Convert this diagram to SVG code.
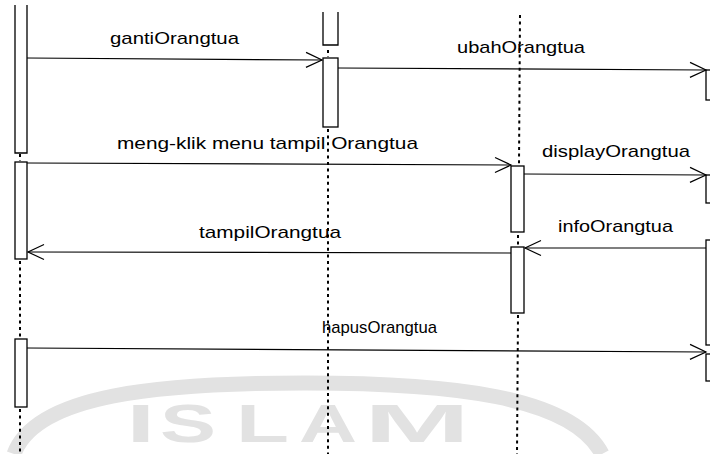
<svg xmlns="http://www.w3.org/2000/svg" width="710" height="454" viewBox="0 0 710 454">
<style>
  .act{fill:#fff;stroke:#000;stroke-width:1.3}
  .life{stroke:#000;stroke-width:2;stroke-dasharray:3 3.6;fill:none}
  .msg{stroke:#000;stroke-width:1.2;fill:none}
  .lbl{font-family:"Liberation Sans",Arial,sans-serif;font-size:17px;fill:#000}
  .wm{font-family:"Liberation Sans",Arial,sans-serif;font-size:54px;font-weight:bold;fill:#e2e2e2}
</style>
<defs>
  <marker id="arr" markerUnits="userSpaceOnUse" markerWidth="20" markerHeight="20" refX="0" refY="0" viewBox="-18 -10 20 20" orient="auto">
    <path d="M -16 -7.5 L 0 0 L -16 7.5" fill="none" stroke="#000" stroke-width="1.2"/>
  </marker>
</defs>
<rect width="710" height="454" fill="#fff"/>

<g id="watermark">
  <path d="M 14 454 C 36 394, 160 383, 305 383 C 450 383, 572 396, 602 454" fill="none" stroke="#e2e2e2" stroke-width="15"/>
  <text class="wm" x="126.5" y="442" textLength="28.5" lengthAdjust="spacingAndGlyphs">I</text>
  <text class="wm" x="160" y="442" textLength="56" lengthAdjust="spacingAndGlyphs">S</text>
  <text class="wm" x="236" y="442" textLength="53" lengthAdjust="spacingAndGlyphs">L</text>
  <text class="wm" x="299" y="442" textLength="58" lengthAdjust="spacingAndGlyphs">A</text>
  <text class="wm" x="364" y="442" textLength="106" lengthAdjust="spacingAndGlyphs">M</text>
</g>

<g id="lifeline1">
  <path class="act" d="M 15 5 V 153 H 27 V 5"/>
  <line class="life" x1="20" y1="154" x2="20" y2="161"/>
  <rect class="act" x="15" y="162" width="12" height="97"/>
  <line class="life" x1="20" y1="261" x2="20" y2="338"/>
  <rect class="act" x="15" y="339" width="12" height="68"/>
  <line class="life" x1="20" y1="409" x2="20" y2="454"/>
</g>

<g id="lifeline2">
  <path class="act" d="M 323 12 V 45 H 338 V 12"/>
  <line class="life" x1="328" y1="50" x2="328" y2="57"/>
  <rect class="act" x="323" y="58" width="15" height="69"/>
  <line class="life" x1="328" y1="129" x2="328" y2="454"/>
</g>

<g id="lifeline3">
  <line class="life" x1="520" y1="15" x2="519" y2="165"/>
  <rect class="act" x="511" y="166" width="13" height="66"/>
  <line class="life" x1="518" y1="235" x2="518" y2="246"/>
  <rect class="act" x="511" y="247" width="13" height="66"/>
  <line class="life" x1="518" y1="315" x2="517" y2="454"/>
</g>

<g id="lifeline4">
  <rect class="act" x="706" y="70" width="12" height="30"/>
  <rect class="act" x="706" y="175" width="12" height="28"/>
  <rect class="act" x="706" y="240" width="12" height="105"/>
  <rect class="act" x="706" y="354" width="12" height="27"/>
</g>

<g id="connectors">
  <line class="msg" x1="27" y1="58" x2="322" y2="60" marker-end="url(#arr)"/>
  <line class="msg" x1="338" y1="68" x2="706" y2="70" marker-end="url(#arr)"/>
  <line class="msg" x1="27" y1="163" x2="511" y2="165" marker-end="url(#arr)"/>
  <line class="msg" x1="524" y1="174" x2="706" y2="175" marker-end="url(#arr)"/>
  <line class="msg" x1="706" y1="248" x2="525" y2="248" marker-end="url(#arr)"/>
  <line class="msg" x1="511" y1="253" x2="28" y2="252" marker-end="url(#arr)"/>
  <line class="msg" x1="27" y1="348" x2="706" y2="352" marker-end="url(#arr)"/>
</g>

<g id="labels">
  <text class="lbl" x="110" y="44" textLength="129" lengthAdjust="spacingAndGlyphs">gantiOrangtua</text>
  <text class="lbl" x="457" y="53" textLength="128" lengthAdjust="spacingAndGlyphs">ubahOrangtua</text>
  <text class="lbl" x="117" y="149" textLength="301" lengthAdjust="spacingAndGlyphs">meng-klik menu tampil Orangtua</text>
  <text class="lbl" x="542" y="157" textLength="148" lengthAdjust="spacingAndGlyphs">displayOrangtua</text>
  <text class="lbl" x="558" y="232" textLength="115" lengthAdjust="spacingAndGlyphs">infoOrangtua</text>
  <text class="lbl" x="199" y="238" textLength="142" lengthAdjust="spacingAndGlyphs">tampilOrangtua</text>
  <text class="lbl" x="322" y="333" textLength="115" lengthAdjust="spacingAndGlyphs">hapusOrangtua</text>
</g>
</svg>
